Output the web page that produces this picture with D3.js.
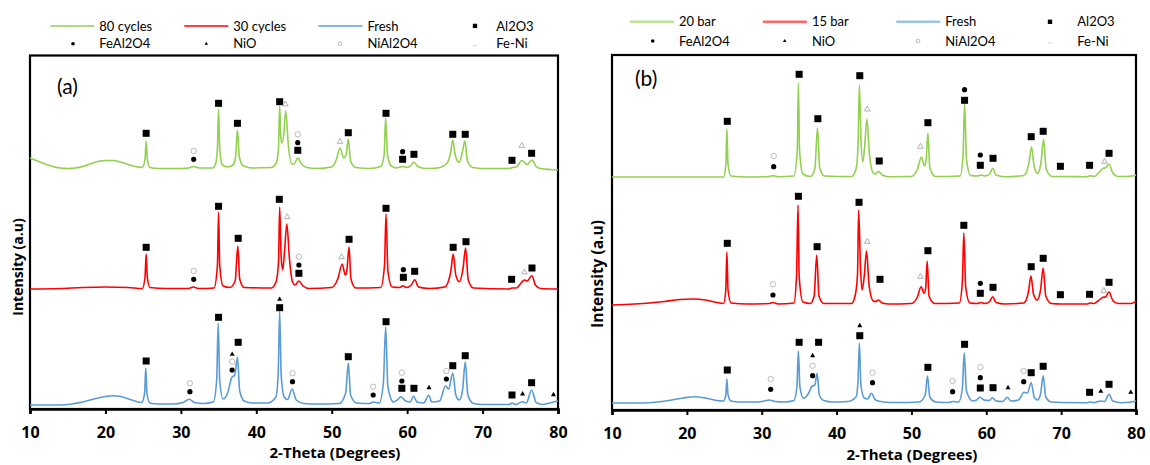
<!DOCTYPE html>
<html><head><meta charset="utf-8">
<script src="https://cdn.jsdelivr.net/npm/d3@7/dist/d3.min.js"></script>
<style>body{margin:0;background:#fff}</style>
</head><body>
<svg id="c" width="1150" height="465"></svg>
<script>
// ---------- data ----------
const tickValues = [10, 20, 30, 40, 50, 60, 70, 80];
const phaseNames = ["Al2O3", "FeAl2O4", "NiO", "NiAl2O4", "Fe-Ni"];
const phaseCodes = ["A", "F", "N", "S", "T"];
const seriesNamesA = ["80 cycles", "30 cycles", "Fresh"];
const seriesNamesB = ["20 bar", "15 bar", "Fresh"];
const offsetsA = [240, 120, 4];   // stacking offsets (a.u.)
const offsetsB = [233, 106, 7];

// panel (a) patterns: [2θ, intensity a.u.]
const a80 = [[10,11],[11,8],[12,5],[13,2.5],[14,1],[15,0.5],[16,1],[17,2.5],[18,5],[19,7.5],[20,8.5],[21,8.5],[22,7],[23,4.5],[24,2.5],[24.9,1.5],[25.25,10],[25.4,28],[25.55,10],[25.9,1.5],[27,0.5],[30,0.5],[31,1],[31.7,2.5],[32.4,1],[34.2,1],[34.6,5],[34.85,21],[35.0,60],[35.15,21],[35.5,4],[36.2,2],[36.9,4],[37.25,12],[37.5,39],[37.75,12],[38.3,3],[39.5,1],[42,1.5],[42.65,6],[42.95,22],[43.1,63],[43.25,32],[43.4,26],[43.65,35],[43.9,58],[44.25,24],[44.7,5],[45.0,5],[45.5,11],[46.0,5],[46.7,1.5],[48,0.5],[50,2],[50.6,9],[51.1,21],[51.6,11],[51.9,14],[52.2,30],[52.5,8],[53.2,1.5],[55,0.5],[56.5,2.5],[56.95,14],[57.15,51],[57.4,14],[57.9,3],[58.6,1],[59.4,2.5],[60.0,1.5],[60.5,3.5],[60.9,7],[61.4,2.5],[62.5,0.5],[64,1],[65.3,6],[65.8,18],[66.05,29],[66.4,13],[66.9,6.5],[67.35,18],[67.65,28],[68.0,8],[68.7,1.5],[70,0.5],[73.5,0.5],[74,1.5],[74.5,2],[75.2,8.5],[75.9,4.5],[76.55,9],[77.1,2.5],[77.7,0.5],[80,-1]];
const a30 = [[10,0],[14,0.5],[17,1.5],[20,2],[23,1.5],[24.9,0.5],[25.25,12],[25.4,35],[25.55,12],[25.9,1.5],[28,0.5],[31,0.5],[31.65,2],[32.3,0.5],[34.4,1],[34.85,24],[35.0,77],[35.15,24],[35.6,3],[36.5,1.5],[37.2,8],[37.55,43],[37.8,10],[38.4,1.5],[42,1],[42.65,8],[42.95,28],[43.1,82],[43.3,32],[43.5,19],[43.75,38],[44.05,65],[44.4,30],[44.8,7],[45.15,4],[45.65,8],[46.2,3],[47,0.5],[50,1.5],[50.8,10],[51.4,25],[51.8,14],[52.0,18],[52.3,42],[52.55,10],[53.2,1],[56.5,1.5],[57.0,24],[57.2,75],[57.45,18],[58.0,2],[59.0,1.5],[59.45,3.3],[59.9,1.5],[60.55,4],[61.0,9.3],[61.5,2],[63,0.5],[65,2],[65.8,18],[66.1,35],[66.45,14],[66.9,7.3],[67.4,20],[67.75,41],[68.1,9],[68.8,1],[73.5,0],[73.9,1],[74.5,1],[75.1,6],[75.55,9],[75.9,8],[76.55,13.3],[77.0,4],[77.7,0.5],[80,0]];
const aFresh = [[10,0],[14,0],[15.5,1],[17,3],[18.5,6],[20,8.5],[21,9.3],[22,8.5],[23.5,5],[24.8,2.5],[25.2,12],[25.35,37],[25.5,12],[25.9,2],[27,1],[29,1],[30.3,2.5],[31.1,5.7],[31.8,2.5],[33,1.5],[34.3,3],[34.75,25],[34.95,82],[35.15,25],[35.6,6],[36.2,12],[36.75,27.5],[37.15,30],[37.5,47.7],[37.8,14],[38.4,4],[39.5,2],[41.5,2],[42.6,8],[42.9,30],[43.1,94],[43.3,30],[43.7,8],[44.15,5.5],[44.75,16],[45.3,5],[46.3,1.5],[48,1],[51,1.5],[51.85,12],[52.2,42],[52.5,10],[53.3,2],[55,1.5],[55.5,3],[56.3,2],[56.85,22],[57.15,78],[57.45,18],[58.2,3],[58.7,5],[59.2,8.3],[59.8,4],[60.4,3],[60.85,9],[61.3,3],[62.2,2],[62.85,9.7],[63.3,3],[64.3,4],[65.1,19],[65.5,16],[66.05,32],[66.45,10],[66.9,5],[67.35,15],[67.7,43],[68.05,10],[68.8,1.5],[70,0.5],[73.5,0.5],[73.9,2],[74.4,0.5],[75.3,3.3],[75.8,2],[76.5,15],[77.1,2.5],[78,0.5],[79.4,3],[80,4]];

// panel (b) patterns
const b20 = [[10,0],[24.9,0],[25.2,12],[25.35,48],[25.5,12],[25.9,1],[28,0],[31,0.5],[31.55,1.3],[32.2,0.3],[34.3,1],[34.75,27],[34.9,94],[35.05,27],[35.5,3],[36.5,0.5],[37.1,8],[37.45,49],[37.75,9],[38.4,1],[42,0.5],[42.6,8],[42.85,28],[43.05,92],[43.25,40],[43.5,15],[43.75,30],[44.05,58],[44.4,22],[44.9,4],[45.2,3],[45.6,5.5],[46.1,2],[47,0.3],[50,0.5],[50.8,8],[51.35,20],[51.75,11],[51.95,16],[52.2,44],[52.45,10],[53.2,0.5],[56.5,1],[56.9,22],[57.1,74],[57.35,18],[57.9,1.5],[58.8,1],[59.3,2],[59.8,1],[60.45,3],[60.85,8.7],[61.3,2],[62.5,0.3],[65,1.5],[65.7,14],[66.05,30],[66.4,10],[66.85,3.7],[67.3,14],[67.65,37.7],[68.0,8],[68.8,0.5],[70,0.5],[73.5,0.3],[73.85,1.3],[74.4,0.5],[75.0,4],[75.6,8.7],[75.9,9],[76.4,12.7],[76.9,4],[77.6,0.5],[79.5,1],[80,2]];
const b15 = [[10,-1],[13,0],[15,1],[17,2.5],[19,4.5],[20.8,5],[22.5,4],[24,1.5],[24.9,0.5],[25.2,14],[25.35,52],[25.5,14],[25.9,1],[28,0],[31,0.5],[31.5,1.5],[32.2,0],[34.3,1],[34.65,28],[34.85,99],[35.0,28],[35.5,2],[36.5,0.5],[37.0,8],[37.35,49],[37.65,8],[38.3,0.5],[42,0.5],[42.5,9],[42.8,30],[42.95,94],[43.2,35],[43.4,14],[43.7,28],[44.0,53],[44.35,18],[44.9,3],[45.2,2.5],[45.6,4],[46.1,1],[47,0],[50,0.5],[50.8,7],[51.3,17.3],[51.7,10.7],[51.9,16],[52.1,43],[52.35,8],[53.1,0.5],[56.4,1],[56.8,22],[57.0,71],[57.25,17],[57.8,1],[58.8,0.5],[59.3,1.5],[59.8,0.5],[60.45,2.5],[60.85,7.3],[61.3,1.5],[62.5,0],[65,1],[65.65,13],[65.97,28],[66.3,10],[66.8,4],[67.25,14],[67.6,36],[67.95,8],[68.7,0.5],[70,0],[73.5,0],[73.85,1],[74.4,0.5],[75.0,3.5],[75.6,6.7],[75.9,7],[76.4,12],[76.9,3.5],[77.6,0.5],[79.3,0.5],[80,2.5]];
const bFresh = [[10,0],[14,0],[16,1],[18,3],[19.5,5],[21,6.3],[22.5,5],[24,2.5],[24.9,2],[25.2,8],[25.35,24],[25.5,8],[25.9,2],[27,1],[29.5,1],[30.4,2],[31.0,3],[31.8,1.5],[33,1],[34.3,2.5],[34.7,16],[34.9,52],[35.1,16],[35.6,4.7],[36.2,9],[36.75,17],[37.1,18],[37.4,29.7],[37.7,8],[38.3,2.5],[39.5,1],[41.5,1.5],[42.6,6],[42.85,20],[43.05,60],[43.25,18],[43.7,5],[44.15,4],[44.65,9.7],[45.2,3],[46.3,1],[48,0.5],[51,1],[51.85,8],[52.15,27],[52.45,6],[53.3,1],[55,0.5],[55.5,1.5],[56.3,1],[56.8,14],[57.05,50.3],[57.35,12],[58.2,2],[58.7,3],[59.15,5.7],[59.7,3],[60.4,2.5],[60.8,5.3],[61.3,2],[62.2,1.5],[62.8,5.7],[63.3,2],[64.3,3],[65.05,10.7],[65.5,10],[66.0,20.3],[66.4,6],[66.85,3],[67.25,9],[67.6,27.3],[67.95,6],[68.7,1],[70,0.5],[73.5,0.3],[73.9,1],[74.4,0.3],[75.3,2],[75.8,1.5],[76.4,8.7],[76.9,2],[78,0.3],[79.4,1],[80,2]];

// phase markers: [phase code, 2θ, height above that pattern's baseline]
const mkA80 = [["A",25.4,35.7],["S",31.7,18],["F",31.7,9.7],["A",35.0,65.7],["A",37.5,45.7],["A",43.1,67.3],["T",43.85,64.7],["S",45.5,34.7],["F",45.5,26.3],["A",45.5,18.7],["T",51.1,27.3],["A",52.2,36.3],["A",57.2,55.7],["F",59.4,17.3],["A",59.4,9.7],["A",60.9,14.7],["A",66.05,34.7],["A",67.7,34.7],["A",73.9,8.7],["T",75.2,23.3],["A",76.5,15.7]];
const mkA30 = [["A",25.4,41.7],["S",31.7,18],["F",31.7,9.7],["A",35.0,82.7],["A",37.6,50.7],["A",43.05,89.7],["T",44.1,72],["S",45.65,32.3],["F",45.65,24],["A",45.65,15.7],["T",51.3,32],["A",52.3,49.7],["A",57.2,80.7],["F",59.5,19.3],["A",59.5,11.7],["A",61.0,17.7],["A",66.1,41.7],["A",67.8,47.3],["A",73.85,9.7],["T",75.55,16.7],["A",76.55,21]];
const mkAFresh = [["A",25.4,44],["S",31.2,21.7],["F",31.2,13.3],["A",35.0,87.7],["N",36.8,50.7],["S",36.8,43.3],["F",36.8,35],["A",37.6,62.7],["N",43.1,105.7],["A",43.1,97.3],["S",44.8,31.7],["F",44.8,23.3],["A",52.2,48.3],["S",55.5,18.3],["F",55.5,10],["A",57.2,83.3],["S",59.3,32.3],["F",59.3,24],["A",59.3,16.7],["A",60.9,16.7],["N",62.9,17.3],["S",65.2,34],["F",65.2,26],["A",66.05,39.3],["A",67.7,49.3],["A",73.9,10],["N",75.3,11],["A",76.5,22.3],["N",79.4,10.3]];
const mkB20 = [["A",25.4,55.7],["S",31.6,21],["F",31.6,10.3],["A",35.0,102.7],["A",37.5,58.3],["A",43.1,101.3],["T",44.1,67.7],["A",45.7,16],["T",51.2,30.3],["A",52.2,54.3],["F",57.1,87.3],["A",57.1,76.7],["F",59.2,22],["A",59.2,11.7],["A",60.9,18.7],["A",66.0,40.3],["A",67.6,45.7],["A",69.9,10.7],["A",73.8,11.7],["T",75.8,15.3],["A",76.4,23.7]];
const mkB15 = [["A",25.4,60.7],["S",31.5,19.7],["F",31.5,9],["A",34.9,107.7],["A",37.4,57.3],["A",43.0,101.7],["T",44.1,62.3],["A",45.8,24.7],["T",51.2,27.3],["A",52.2,53.3],["A",57.0,78.7],["F",59.2,20.7],["A",59.2,10.7],["A",60.9,16.7],["A",66.0,37.3],["A",67.6,45.7],["A",69.9,9.3],["A",73.8,9.7],["T",75.7,13.3],["A",76.4,21.7]];
const mkBFresh = [["A",25.4,33],["S",31.2,24],["F",31.2,13.7],["A",35.0,60.7],["N",36.8,47.3],["S",36.8,37.3],["F",36.8,27.3],["A",37.6,60.7],["N",43.1,77.3],["A",43.1,67.3],["S",44.8,30.3],["F",44.8,20.3],["A",52.2,35.7],["S",55.5,22],["F",55.5,11.3],["A",57.1,58.7],["S",59.2,35.7],["F",59.2,25.3],["A",59.2,15],["A",60.9,15.3],["N",62.9,15.3],["S",65.0,32],["F",65.0,21.3],["A",66.0,30.3],["A",67.6,36.7],["A",73.8,10.7],["N",75.3,11.7],["A",76.4,18.7],["N",79.3,10.7]];

// ---------- drawing ----------
const colors = ["#92D050", "#FF0000", "#5B9BD5"];
const svg = d3.select("#c");

function drawMarker(g, code, cx, cy, s) {
  if (code === "A") {
    g.append("rect").attr("x", cx - 3.5*s).attr("y", cy - 3.5*s).attr("width", 7*s).attr("height", 7*s).attr("fill", "#000");
  } else if (code === "F") {
    g.append("circle").attr("cx", cx).attr("cy", cy).attr("r", 2.6*s).attr("fill", "#000");
  } else if (code === "N") {
    g.append("path").attr("d", d3.symbol(d3.symbolTriangle, 11*s*s)()).attr("transform", `translate(${cx},${cy})`).attr("fill", "#000");
  } else if (code === "S") {
    g.append("circle").attr("cx", cx).attr("cy", cy).attr("r", 2.7*s).attr("fill", "none").attr("stroke", "#b3b3b3").attr("stroke-width", 0.9);
  } else if (code === "T") {
    g.append("path").attr("d", d3.symbol(d3.symbolTriangle, 14*s*s)()).attr("transform", `translate(${cx},${cy})`).attr("fill", "none").attr("stroke", "#a9a9a9").attr("stroke-width", 0.9);
  }
}

function drawPanel(p) {
  const g = svg.append("g");
  const x = d3.scaleLinear().domain([10, 80]).range([p.x0, p.x1]);
  const y = d3.scaleLinear().domain([0, p.yb - p.yt]).range([p.yb, p.yt]);

  // frame
  g.append("rect").attr("x", p.x0).attr("y", p.yt).attr("width", p.x1 - p.x0).attr("height", p.yb - p.yt)
    .attr("fill", "none").attr("stroke", "#000").attr("stroke-width", 2.2);

  // x axis
  const ax = g.append("g").attr("transform", `translate(0,${p.yb})`)
    .call(d3.axisBottom(x).tickValues(tickValues).tickSize(5).tickPadding(13).tickFormat(d3.format("d")));
  ax.select(".domain").attr("stroke", "#000").attr("stroke-width", 2.6);
  ax.selectAll(".tick line").attr("stroke", "#000").attr("stroke-width", 2);
  ax.selectAll(".tick text").attr("fill", "#000").style("font-family", "'Open Sans', sans-serif")
    .style("font-weight", "700").style("font-size", "16px");

  // patterns
  const line = (off) => d3.line().x(d => x(d[0])).y(d => y(d[1] + off)).curve(d3.curveMonotoneX);
  p.series.forEach((s, i) => {
    g.append("path").datum(s).attr("d", line(p.offsets[i])).attr("fill", "none")
      .attr("stroke", colors[i]).attr("stroke-width", 1.6).attr("stroke-linejoin", "round");
  });
  // phase markers
  p.markers.forEach((ms, i) => {
    ms.forEach(m => drawMarker(g, m[0], x(m[1]), y(m[2] + p.offsets[i]), 1));
  });

  // legend
  const lg = g.append("g").style("font-family", "Lato, sans-serif").style("font-size", "13px");
  p.names.forEach((n, i) => {
    const tx = p.legX[i];
    lg.append("line").attr("x1", tx - 49).attr("x2", tx - 5).attr("y1", p.legY1).attr("y2", p.legY1)
      .attr("stroke", colors[i]).attr("stroke-width", p.legW).attr("stroke-opacity", p.legOp);
    lg.append("text").attr("x", tx).attr("y", p.legY1 + 4.6).attr("fill", "#000").text(n);
  });
  // Al2O3 on row 1, others row 2
  drawMarker(lg, phaseCodes[0], p.legX[3] - p.legM[3], p.legY1, 0.62);
  lg.append("text").attr("x", p.legX[3]).attr("y", p.legY1 + 4.6).attr("fill", "#000").text(phaseNames[0]);
  for (let k = 1; k < 5; k++) {
    const col = k - 1;
    const mx = p.legX[col] - p.legM[col];
    if (phaseCodes[k] === "T") {
      lg.append("line").attr("x1", mx - 2).attr("x2", mx + 2).attr("y1", p.legY2 + 2).attr("y2", p.legY2 + 2)
        .attr("stroke", "#d4d4d4").attr("stroke-width", 1);
    } else {
      drawMarker(lg, phaseCodes[k], mx, p.legY2, 0.7);
    }
    lg.append("text").attr("x", p.legX[col]).attr("y", p.legY2 + 4.6).attr("fill", "#000").text(phaseNames[k]);
  }

  // panel label
  g.append("text").attr("x", p.labX).attr("y", p.labY).text(p.label)
    .style("font-family", "Lato, sans-serif").style("font-size", "21px").attr("fill", "#000");

  // axis titles
  g.append("text").attr("x", p.xtX).attr("y", p.xtY).attr("text-anchor", "middle").text("2-Theta (Degrees)")
    .style("font-family", "'Open Sans', sans-serif").style("font-weight", "700").style("font-size", "15px").attr("fill", "#000");
  g.append("text").attr("transform", `translate(${p.ytX},${p.ytY}) rotate(-90)`).attr("text-anchor", "middle")
    .text("Intensity (a.u)").style("font-family", "'Open Sans', sans-serif").style("font-weight", "700")
    .style("font-size", p.ytSize).attr("fill", "#000");
}

drawPanel({
  x0: 30, x1: 558, yt: 55.5, yb: 409,
  series: [a80, a30, aFresh], offsets: offsetsA, markers: [mkA80, mkA30, mkAFresh], names: seriesNamesA,
  legX: [99.3, 233.3, 367.4, 496.3], legM: [26.3, 27, 27.4, 21.3], legY1: 25.9, legY2: 43.7, legW: 1.5, legOp: 1,
  label: "(a)", labX: 57, labY: 94, xtX: 335, xtY: 458, ytX: 23, ytY: 267, ytSize: "14px"
});
drawPanel({
  x0: 612, x1: 1136, yt: 55, yb: 410,
  series: [b20, b15, bFresh], offsets: offsetsB, markers: [mkB20, mkB15, mkBFresh], names: seriesNamesB,
  legX: [678.9, 811.9, 945.3, 1077.3], legM: [26.2, 27.2, 27.3, 27.3], legY1: 21.8, legY2: 41, legW: 2.5, legOp: 0.6,
  label: "(b)", labX: 635, labY: 86, xtX: 912, xtY: 459.5, ytX: 603, ytY: 274, ytSize: "15.5px"
});
</script>
</body></html>
